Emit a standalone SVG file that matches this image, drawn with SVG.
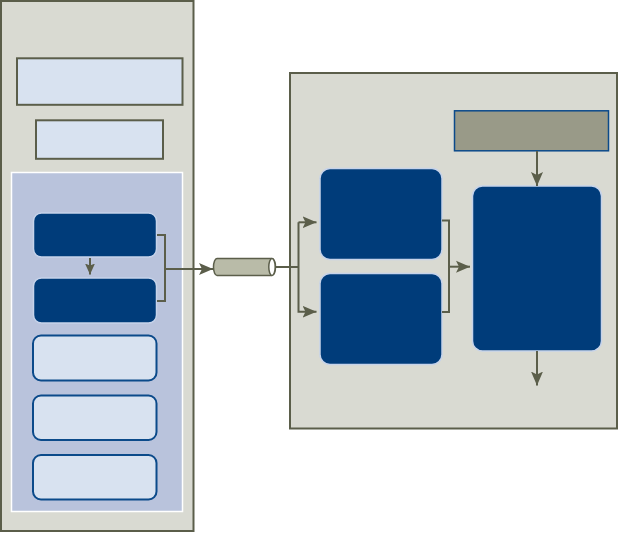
<svg xmlns="http://www.w3.org/2000/svg" width="618" height="533" viewBox="0 0 618 533">
<style>
.panel{fill:#d9dad2;stroke:#5b5e4a;stroke-width:2}
.lbox{fill:#d8e2f0;stroke:#5b5e4a;stroke-width:2}
.dark{fill:#003c7a;stroke:#c6d3ea;stroke-width:1.5}
.lround{fill:#d8e2f0;stroke:#0b4a8a;stroke-width:2}
.conn{fill:none;stroke:#5b5e4a;stroke-width:2}
</style>
<defs>
<marker id="ah" markerUnits="userSpaceOnUse" markerWidth="16" markerHeight="14" refX="14" refY="6.5" orient="auto">
<path d="M0,0.5 L14,6.5 L0,12.5 L3,6.5 Z" fill="#5b5e4a"/>
</marker>
<marker id="ahs" markerUnits="userSpaceOnUse" markerWidth="12" markerHeight="12" refX="11" refY="6" orient="auto">
<path d="M0,1 L11,6 L0,11 L2,6 Z" fill="#5b5e4a"/>
</marker>
</defs>
<g id="left-panel">
<rect class="panel" x="1" y="1" width="192.5" height="530"/>
</g>
<g id="box-top1"><rect class="lbox" x="17" y="58.3" width="165.5" height="46.5"/></g>
<g id="box-top2"><rect class="lbox" x="36" y="120.3" width="127" height="38.5"/></g>
<g id="inner-panel"><rect x="11.5" y="172.5" width="171" height="339" fill="#b9c3dc" stroke="#ffffff" stroke-width="1.5"/></g>
<g id="d1"><rect class="dark" x="33.5" y="213" width="123" height="44" rx="8"/></g>
<g id="d2"><rect class="dark" x="33.5" y="278" width="123" height="45" rx="8"/></g>
<g id="l3"><rect class="lround" x="33" y="335.5" width="123.5" height="45" rx="8"/></g>
<g id="l4"><rect class="lround" x="33" y="395.5" width="123.5" height="44.5" rx="8"/></g>
<g id="l5"><rect class="lround" x="33" y="455" width="123.5" height="44.5" rx="8"/></g>
<g id="right-panel"><rect class="panel" x="290" y="73" width="327" height="355.5"/></g>
<g id="gray-box"><rect x="454.5" y="110.8" width="154" height="40" fill="#999a88" stroke="#0b4a8a" stroke-width="1.5"/></g>
<g id="ra"><rect class="dark" x="320" y="168.5" width="122" height="91" rx="10"/></g>
<g id="rb"><rect class="dark" x="320" y="273.5" width="122" height="91" rx="10"/></g>
<g id="big"><rect class="dark" x="472.5" y="186" width="129" height="165" rx="10"/></g>
<g id="pipe">
<path d="M217,258.5 L272,258.5 A3.5,8.5 0 0 1 272,275.5 L217,275.5 A3.5,8.5 0 0 1 217,258.5 Z" fill="#b9bba8" stroke="#5b5e4a" stroke-width="1.5"/>
<ellipse cx="272" cy="267" rx="3.2" ry="8.5" fill="#ffffff" stroke="#5b5e4a" stroke-width="1.5"/>
</g>
<g id="connectors">
<path class="conn" d="M90,258 V274.5" marker-end="url(#ahs)"/>
<path class="conn" d="M157,235 H165 V301 H157"/>
<path class="conn" d="M165,269 H213" marker-end="url(#ah)"/>
<path class="conn" d="M275,267 H298.5"/>
<path class="conn" d="M298.5,222.3 V311.7 H316.5" marker-end="url(#ah)"/>
<path class="conn" d="M298.5,222.3 H316.5" marker-end="url(#ah)"/>
<path class="conn" d="M442,220.5 H449 V312 H442" stroke-width="1.5"/>
<path class="conn" d="M449,266.7 H470" marker-end="url(#ah)"/>
<path class="conn" d="M537,151 V186" marker-end="url(#ah)"/>
<path class="conn" d="M537,351 V385.5" marker-end="url(#ah)"/>
</g>
</svg>
